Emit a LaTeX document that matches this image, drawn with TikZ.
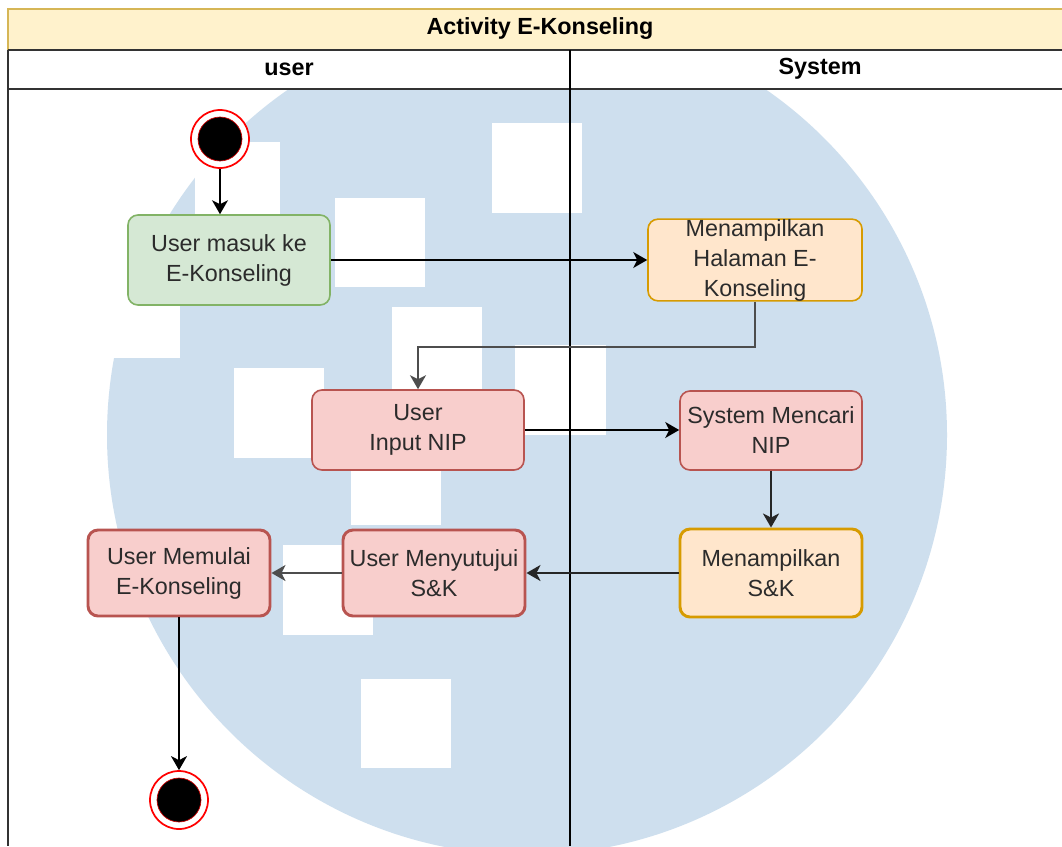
\documentclass[tikz,border=0pt]{standalone}
\usepackage{fontspec}
\setmainfont{Liberation Sans}
\usetikzlibrary{arrows.meta}
\definecolor{wm}{RGB}{206,223,238}
\definecolor{greenfill}{HTML}{D5E8D4}
\definecolor{greenline}{HTML}{82B366}
\definecolor{orfill}{HTML}{FFE6CC}
\definecolor{orline}{HTML}{D79B00}
\definecolor{redfill}{HTML}{F8CECC}
\definecolor{redline}{HTML}{B85450}
\definecolor{titfill}{HTML}{FFF2CC}
\definecolor{titline}{HTML}{D6B656}
\definecolor{txt}{HTML}{2B2B2B}
\definecolor{lanel}{HTML}{333333}
\definecolor{grayline}{HTML}{4D4D4D}
\tikzset{
  act/.style={rectangle, rounded corners=7.5pt, align=center, text=txt,
    font=\fontsize{17.5}{22.5}\selectfont, inner sep=0pt, line width=1.2pt},
  actg/.style={act, fill=greenfill, draw=greenline},
  acto/.style={act, fill=orfill, draw=orline},
  actr/.style={act, fill=redfill, draw=redline},
  thick/.style={line width=2.2pt},
  flow/.style={line width=1.3pt, -{Stealth[length=10.5pt,width=12pt,inset=3pt]}},
  ring/.style={circle, minimum size=43.5pt, inner sep=0pt, draw=red, fill=white, line width=1.3pt},
  lanetext/.style={font=\bfseries\fontsize{17.5}{21}\selectfont, text=black},
}
\begin{document}
\begin{tikzpicture}[x=0.75pt,y=-0.75pt]
\useasboundingbox (0,0) rectangle (1062,846);
\fill[white] (0,0) rectangle (1062,846);
% watermark
\begin{scope}
\clip (0,0) rectangle (1062,846);
\fill[wm] (527,435) circle (315pt);
\fill[white] (195,142) rectangle (280,232);
\fill[white] (90,268) rectangle (180,358);
\fill[white] (335,198) rectangle (425,287);
\fill[white] (492,123) rectangle (582,213);
\fill[white] (392,307) rectangle (482,397);
\fill[white] (234,368) rectangle (324,458);
\fill[white] (515,345) rectangle (606,435);
\fill[white] (351,435) rectangle (441,525);
\fill[white] (283,545) rectangle (373,635);
\fill[white] (361,679) rectangle (451,768);
\end{scope}
% pool / lanes
\fill[titfill] (8,9) rectangle (1062,50);
\draw[titline, line width=1.2pt] (1062,9) -- (8,9) -- (8,50);
\fill[white] (8,50) rectangle (1062,89);
\draw[lanel, line width=1.4pt] (8,50) -- (1062,50);
\draw[lanel, line width=1.4pt] (8,89) -- (1062,89);
\draw[lanel, line width=1.1pt] (8,50) -- (8,846);
\draw[black, line width=1.1pt] (570,50) -- (570,846);
\node[lanetext] (title) at (540,29) {Activity E-Konseling};
\node[lanetext] (laneuser) at (289,69) {user};
\node[lanetext] (lanesys) at (820,69) {System};
% nodes
\node[ring] (start) at (220,139) {};
\fill[black, draw=red!80!black, line width=0.5pt] (start.center) circle (16.5pt);
\node[actg, minimum width=151.5pt, minimum height=67.5pt] (masuk) at (229,260) {User masuk ke\\E-Konseling};
\node[acto, minimum width=160.5pt, minimum height=60pt] (halaman) at (755,260) {Menampilkan\\Halaman E-\\Konseling};
\node[actr, minimum width=159pt, minimum height=60pt] (input) at (418,430) {User\\Input NIP};
\node[actr, minimum width=136.5pt, minimum height=59.25pt] (cari) at (771,430.5) {System Mencari\\NIP};
\node[acto, thick, minimum width=136.5pt, minimum height=66pt] (tampil) at (771,573) {Menampilkan\\S\&K};
\node[actr, thick, minimum width=136.5pt, minimum height=64.5pt] (setuju) at (434,573) {User Menyutujui\\S\&K};
\node[actr, thick, minimum width=136.5pt, minimum height=64.5pt] (mulai) at (179,573) {User Memulai\\E-Konseling};
\node[ring] (end) at (179,800) {};
\fill[black, draw=red!80!black, line width=0.5pt] (end.center) circle (16.5pt);
% connectors
\draw[flow] (start.south) -- (start.south |- masuk.north);
\draw[flow] (masuk.east) -- (halaman.west);
\draw[flow, grayline, line width=1.6pt] (halaman.south) -- ++(0,45) -| (input.north);
\draw[flow] (input.east) -- (input.east -| cari.west);
\draw[flow, line width=1.9pt, black!85] (cari.south) -- (tampil.north);
\draw[flow, black!85] (tampil.west) -- (setuju.east);
\draw[flow, grayline] (setuju.west) -- (mulai.east);
\draw[flow] (mulai.south) -- (end.north);
\end{tikzpicture}
\end{document}
